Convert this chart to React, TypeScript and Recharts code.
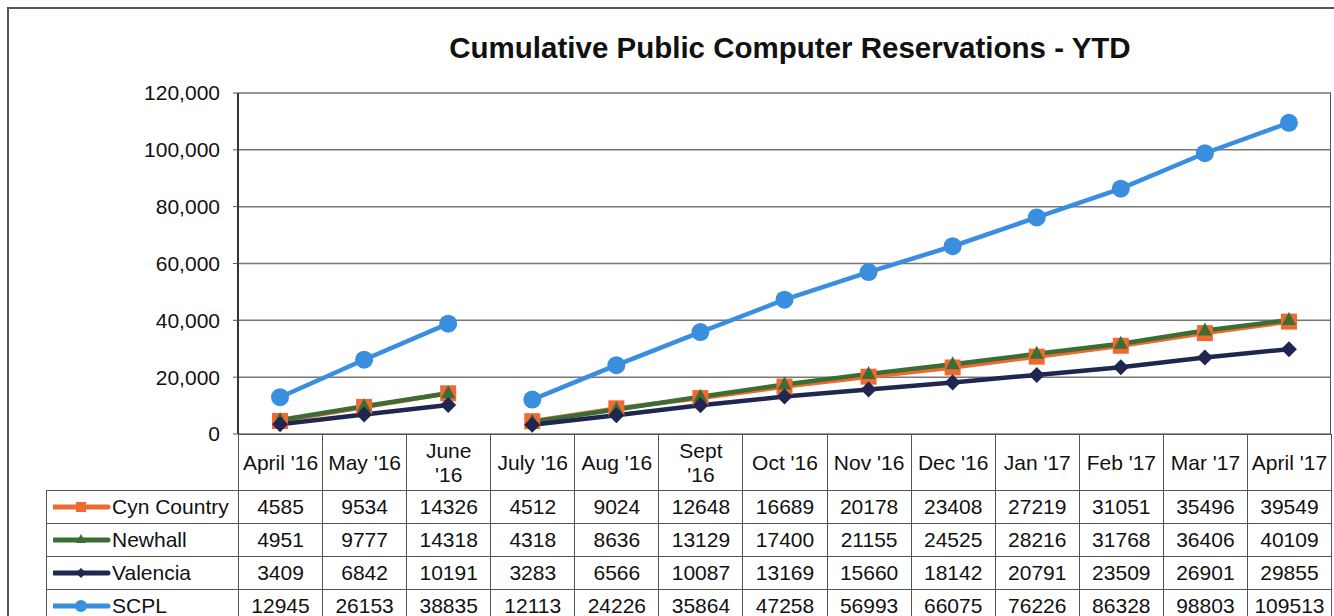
import React from 'react';
import { LineChart, Line, XAxis, YAxis, CartesianGrid } from 'recharts';

const months = [
    "April '16", "May '16", "June\n'16", "July '16", "Aug '16", "Sept\n'16", "Oct '16",
    "Nov '16", "Dec '16", "Jan '17", "Feb '17", "Mar '17", "April '17",
];
const cynCountry = [4585, 9534, 14326, 4512, 9024, 12648, 16689, 20178, 23408, 27219, 31051, 35496, 39549];
const newhall = [4951, 9777, 14318, 4318, 8636, 13129, 17400, 21155, 24525, 28216, 31768, 36406, 40109];
const valencia = [3409, 6842, 10191, 3283, 6566, 10087, 13169, 15660, 18142, 20791, 23509, 26901, 29855];
const scpl = [12945, 26153, 38835, 12113, 24226, 35864, 47258, 56993, 66075, 76226, 86328, 98803, 109513];
const yTicks = [0, 20000, 40000, 60000, 80000, 100000, 120000];
// new fiscal year starts in July, so the lines break there
const fyBreak = 3;

type Shape = 'square' | 'triangle' | 'diamond' | 'circle';

const series: { key: string; name: string; values: number[]; color: string; shape: Shape }[] = [
    { key: 'cyn', name: 'Cyn Country', values: cynCountry, color: '#EE6A30', shape: 'square' },
    { key: 'new', name: 'Newhall', values: newhall, color: '#3B6D35', shape: 'triangle' },
    { key: 'val', name: 'Valencia', values: valencia, color: '#1F2750', shape: 'diamond' },
    { key: 'scpl', name: 'SCPL', values: scpl, color: '#3A8EE0', shape: 'circle' },
];

const data = months.map((m, i) => {
    const row: any = { month: m };
    series.forEach((s) => {
        row[s.key + 'A'] = i < fyBreak ? s.values[i] : null;
        row[s.key + 'B'] = i >= fyBreak ? s.values[i] : null;
    });
    return row;
});

const drawShape = (shape: Shape, color: string, cx: number, cy: number, size: number) => {
    if (shape === 'square') return <rect x={cx - size} y={cy - size} width={size * 2} height={size * 2} fill={color} />;
    if (shape === 'triangle')
        return <polygon points={`${cx},${cy - size - 1} ${cx - size},${cy + size - 2} ${cx + size},${cy + size - 2}`} fill={color} />;
    if (shape === 'diamond')
        return <polygon points={`${cx},${cy - size} ${cx + size},${cy} ${cx},${cy + size} ${cx - size},${cy}`} fill={color} />;
    return <circle cx={cx} cy={cy} r={size} fill={color} />;
};

const dotSize: Record<Shape, number> = { square: 8, triangle: 7, diamond: 8, circle: 9 };

const makeDot = (shape: Shape, color: string) => (props: any) => {
    const { cx, cy, index, value } = props;
    if (cx == null || cy == null || value == null) return <g key={`d-${index}`} />;
    return <g key={`d-${index}`}>{drawShape(shape, color, cx, cy, dotSize[shape])}</g>;
};

const legendSize: Record<Shape, number> = { square: 5, triangle: 5, diamond: 5, circle: 6 };

const cellBorder = '1.5px solid #555';
const colW = 84.08;

export default function App() {
    return (
        <div
            style={{
                position: 'absolute',
                left: 0,
                top: 0,
                width: 1334,
                height: 616,
                overflow: 'hidden',
                background: '#fff',
                fontFamily: '"Liberation Sans", Arial, sans-serif',
            }}
        >
            <div
                style={{
                    position: 'absolute',
                    left: 7,
                    top: 7,
                    width: 1360,
                    height: 640,
                    border: '2px solid #555',
                }}
            />
            <div
                style={{
                    position: 'absolute',
                    left: 0,
                    top: 31,
                    width: 1580,
                    textAlign: 'center',
                    fontWeight: 'bold',
                    fontSize: 29.5,
                    color: '#111',
                }}
            >
                Cumulative Public Computer Reservations - YTD
            </div>
            <div style={{ position: 'absolute', left: 0, top: 0 }}>
                <LineChart width={1334} height={616} data={data} margin={{ top: 93, right: 3, bottom: 182, left: 178 }}>
                    <CartesianGrid vertical={false} stroke='#777' strokeWidth={1.5} />
                    <XAxis dataKey='month' height={0} tick={false} tickLine={false} axisLine={{ stroke: '#333', strokeWidth: 2 }} padding={{ left: colW / 2, right: colW / 2 }} />
                    <YAxis
                        width={60}
                        domain={[0, 120000]}
                        ticks={yTicks}
                        tickFormatter={(v: number) => v.toLocaleString('en-US')}
                        tick={{ fill: '#111', fontSize: 21 }}
                        tickSize={5}
                        tickMargin={13}
                        tickLine={{ stroke: '#555' }}
                        axisLine={{ stroke: '#333', strokeWidth: 2 }}
                        interval={0}
                    />
                    {series.flatMap((s) =>
                        ['A', 'B'].map((part) => (
                            <Line
                                key={s.key + part}
                                dataKey={s.key + part}
                                stroke={s.color}
                                strokeWidth={4.5}
                                dot={makeDot(s.shape, s.color)}
                                activeDot={false}
                                connectNulls={false}
                                isAnimationActive={false}
                            />
                        ))
                    )}
                </LineChart>
            </div>
            <div style={{ position: 'absolute', left: 1330, top: 93, width: 0, height: 341, borderLeft: cellBorder }} />
            <table
                style={{
                    position: 'absolute',
                    left: 46,
                    top: 434,
                    borderCollapse: 'collapse',
                    tableLayout: 'fixed',
                    fontSize: 21,
                    color: '#111',
                }}
            >
                <colgroup>
                    <col style={{ width: 192 }} />
                    {months.map((m) => (
                        <col key={m} style={{ width: colW }} />
                    ))}
                </colgroup>
                <tbody>
                    <tr style={{ height: 56 }}>
                        <td style={{ border: 'none', padding: 0 }} />
                        {months.map((m) => (
                            <td
                                key={m}
                                style={{
                                    border: cellBorder,
                                    textAlign: 'center',
                                    whiteSpace: 'pre-line',
                                    padding: 0,
                                    lineHeight: '24px',
                                }}
                            >
                                {m}
                            </td>
                        ))}
                    </tr>
                    {series.map((s) => (
                        <tr key={s.key} style={{ height: 33 }}>
                            <td style={{ border: cellBorder, padding: '0 0 0 6px', whiteSpace: 'nowrap' }}>
                                <span style={{ display: 'inline-flex', alignItems: 'center' }}>
                                    <svg width={58} height={16} style={{ marginRight: 1 }}>
                                        <line x1={1} y1={8} x2={55} y2={8} stroke={s.color} strokeWidth={5} strokeLinecap='round' />
                                        {drawShape(s.shape, s.color, 28, 8, legendSize[s.shape])}
                                    </svg>
                                    {s.name}
                                </span>
                            </td>
                            {s.values.map((v, i) => (
                                <td key={i} style={{ border: cellBorder, textAlign: 'center', padding: 0 }}>
                                    {v}
                                </td>
                            ))}
                        </tr>
                    ))}
                </tbody>
            </table>
        </div>
    );
}
